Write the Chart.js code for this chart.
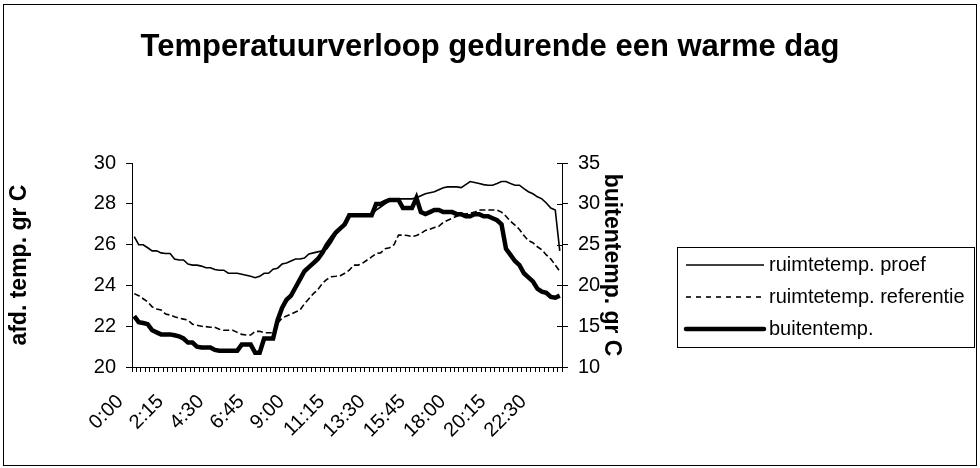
<!DOCTYPE html>
<html>
<head>
<meta charset="utf-8">
<script src="https://cdn.jsdelivr.net/npm/chart.js@4"></script>
<style>
	body { margin: 0; background: #fff; }
	#wrap { width: 980px; height: 468px; position: relative; }
</style>
</head>
<body>
<div id="wrap"><canvas id="tempChart" width="980" height="468"></canvas></div>
<script>
// tijden per kwartier, 0:00 t/m 23:45
const tijden = [];
for (let h = 0; h < 24; h++) {
	for (let m = 0; m < 60; m += 15) {
		tijden.push(h + ":" + (m < 10 ? "0" + m : m));
	}
}

// afd. temp. (linker as)
const proef = [
	26.4, 26.0, 26.0, 25.85, 25.7, 25.7, 25.6, 25.57, 25.57, 25.3,
	25.25, 25.25, 25.05, 25.0, 25.0, 24.95, 24.87, 24.87, 24.78, 24.75,
	24.75, 24.6, 24.6, 24.6, 24.55, 24.5, 24.45, 24.38, 24.45, 24.6,
	24.6, 24.8, 24.85, 25.05, 25.1, 25.2, 25.3, 25.3, 25.35, 25.55,
	25.6, 25.65, 25.7, 25.8, 26.1, 26.5, 26.8, 27.1, 27.4, 27.4,
	27.4, 27.4, 27.45, 27.5, 27.7, 27.85, 28.0, 28.2, 28.25, 28.25,
	28.25, 28.25, 28.25, 28.3, 28.4, 28.5, 28.55, 28.6, 28.7, 28.8,
	28.84, 28.84, 28.84, 28.8, 28.95, 29.1, 29.05, 29.0, 28.95, 28.92,
	28.92, 29.0, 29.1, 29.1, 29.0, 28.92, 28.92, 28.75, 28.6, 28.5,
	28.35, 28.25, 28.05, 27.8, 27.7, 25.7
];
const referentie = [
	23.6, 23.5, 23.35, 23.2, 22.95, 22.85, 22.8, 22.6, 22.55, 22.47,
	22.4, 22.35, 22.3, 22.1, 22.05, 22.0, 21.98, 21.95, 21.95, 21.85,
	21.8, 21.8, 21.8, 21.7, 21.6, 21.57, 21.57, 21.75, 21.75, 21.68,
	21.68, 21.68, 22.15, 22.4, 22.5, 22.6, 22.7, 22.8, 23.1, 23.35,
	23.6, 23.8, 24.1, 24.3, 24.43, 24.45, 24.48, 24.6, 24.75, 25.0,
	25.0, 25.1, 25.25, 25.4, 25.57, 25.6, 25.8, 25.85, 26.0, 26.47,
	26.47, 26.45, 26.4, 26.45, 26.55, 26.7, 26.76, 26.85, 26.9, 27.1,
	27.2, 27.3, 27.4, 27.5, 27.5, 27.55, 27.6, 27.7, 27.7, 27.7,
	27.7, 27.7, 27.6, 27.4, 27.15, 26.96, 26.75, 26.45, 26.2, 26.1,
	25.9, 25.75, 25.5, 25.3, 25.0, 24.7
];
// buitentemp. (rechter as)
const buiten = [
	16.25, 15.5, 15.4, 15.25, 14.5, 14.25, 14.0, 14.0, 14.0, 13.9,
	13.75, 13.5, 13.0, 13.0, 12.5, 12.4, 12.4, 12.4, 12.1, 12.0,
	12.0, 12.0, 12.0, 12.0, 12.75, 12.75, 12.75, 11.75, 11.75, 13.5,
	13.5, 13.5, 15.75, 17.25, 18.25, 18.75, 19.75, 20.75, 21.75, 22.25,
	22.75, 23.25, 24.0, 25.0, 25.75, 26.5, 27.0, 27.5, 28.6, 28.6,
	28.6, 28.6, 28.6, 28.6, 30.0, 30.0, 30.25, 30.5, 30.5, 30.5,
	29.5, 29.5, 29.5, 30.75, 29.0, 28.75, 29.0, 29.25, 29.25, 29.0,
	29.0, 29.0, 28.75, 28.75, 28.5, 28.5, 28.75, 28.75, 28.5, 28.5,
	28.25, 28.0, 27.5, 24.5, 23.75, 23.0, 22.5, 21.5, 21.0, 20.5,
	19.6, 19.25, 19.1, 18.6, 18.5, 18.75
];

const fontFam = "'Liberation Sans', Arial, sans-serif";

// rand om de hele grafiek, legenda en kruisende streepjes op de rechter as
const extras = {
	id: "extras",
	afterDraw(chart) {
		const ctx = chart.ctx;
		ctx.save();
		ctx.strokeStyle = "#000";
		ctx.lineWidth = 1;
		ctx.setLineDash([]);
		ctx.strokeRect(3.5, 4.5, 973, 461);

		// streepjes rechter as ook naar binnen
		const y1 = chart.scales.y1;
		y1.ticks.forEach((t) => {
			const py = Math.round(y1.getPixelForValue(t.value)) + 0.5;
			ctx.beginPath();
			ctx.moveTo(y1.left - 5, py);
			ctx.lineTo(y1.left, py);
			ctx.stroke();
		});

		// legenda
		ctx.strokeRect(677.5, 247.5, 297, 100);
		const rows = [265, 297, 329];
		ctx.font = "20px " + fontFam;
		ctx.fillStyle = "#000";
		ctx.textBaseline = "middle";
		chart.data.datasets.forEach((ds, i) => {
			ctx.beginPath();
			ctx.lineWidth = ds.borderWidth;
			ctx.lineCap = ds.borderWidth > 2 ? "round" : "butt";
			ctx.setLineDash(ds.borderDash ? [5, 5] : []);
			ctx.moveTo(686, rows[i]);
			ctx.lineTo(764, rows[i]);
			ctx.stroke();
			ctx.fillText(ds.label, 769, rows[i]);
		});
		ctx.restore();
	},
};

new Chart(document.getElementById("tempChart"), {
	type: "line",
	data: {
		labels: tijden,
		datasets: [
			{
				label: "ruimtetemp. proef",
				data: proef,
				borderColor: "#000",
				borderWidth: 1.6,
				yAxisID: "y",
			},
			{
				label: "ruimtetemp. referentie",
				data: referentie,
				borderColor: "#000",
				borderWidth: 1.6,
				borderDash: [6, 3],
				yAxisID: "y",
			},
			{
				label: "buitentemp.",
				data: buiten,
				borderColor: "#000",
				borderWidth: 4.5,
				yAxisID: "y1",
			},
		],
	},
	options: {
		responsive: false,
		animation: false,
		events: [],
		elements: { point: { radius: 0 }, line: { tension: 0 } },
		layout: { padding: 0 },
		plugins: {
			legend: { display: false },
			tooltip: { enabled: false },
			title: {
				display: true,
				text: "Temperatuurverloop gedurende een warme dag",
				color: "#000",
				font: { family: fontFam, size: 31, weight: "bold" },
				padding: { top: 29, bottom: 97 },
			},
		},
		scales: {
			x: {
				offset: true,
				grid: { display: true, drawOnChartArea: false, tickLength: 5, color: "#000", offset: true },
				border: { color: "#000" },
				ticks: {
					autoSkip: false,
					minRotation: 45,
					maxRotation: 45,
					padding: 18,
					labelOffset: -14,
					color: "#000",
					font: { family: fontFam, size: 20 },
					callback: function (value, index) {
						return index % 9 === 0 ? this.getLabelForValue(value) : "";
					},
				},
				afterFit: (scale) => {
					scale.height = 101;
				},
			},
			y: {
				position: "left",
				min: 20,
				max: 30,
				ticks: { stepSize: 2, color: "#000", padding: 10, font: { family: fontFam, size: 20 } },
				grid: { drawOnChartArea: false, tickLength: 6, color: "#000" },
				border: { color: "#000" },
				title: {
					display: true,
					text: "afd. temp. gr C",
					color: "#000",
					font: { family: fontFam, size: 23, weight: "bold" },
					padding: { top: 6, bottom: 0 },
				},
				afterFit: (scale) => {
					scale.width = 132;
				},
			},
			y1: {
				position: "right",
				min: 10,
				max: 35,
				ticks: { stepSize: 5, color: "#000", padding: 10, font: { family: fontFam, size: 20 } },
				grid: { drawOnChartArea: false, tickLength: 6, color: "#000" },
				border: { color: "#000" },
				title: {
					display: true,
					text: "buitentemp. gr C",
					color: "#000",
					font: { family: fontFam, size: 23, weight: "bold" },
					padding: { top: 355, bottom: 0 },
				},
				afterFit: (scale) => {
					// ruimte rechts voor de legenda
					scale.width = 418;
				},
			},
		},
	},
	plugins: [extras],
});
</script>
</body>
</html>
